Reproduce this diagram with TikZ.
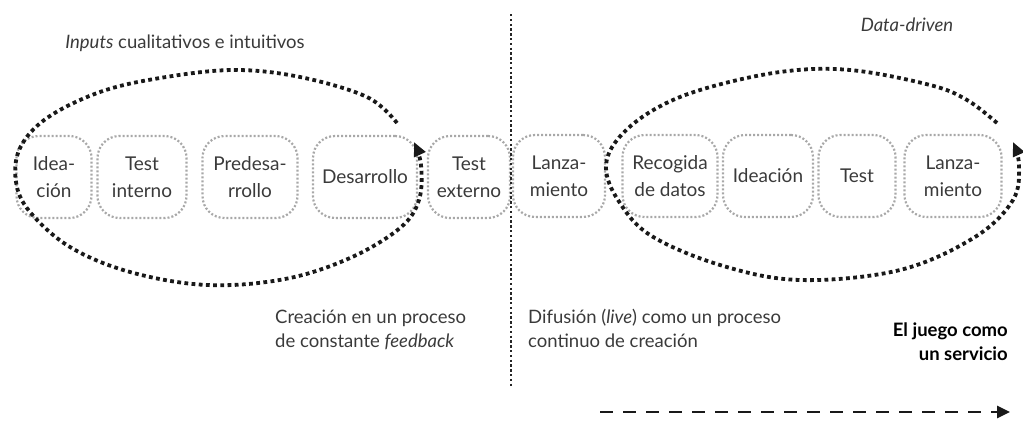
\documentclass[tikz,border=0pt]{standalone}
\usepackage{fontspec}
\setmainfont{Lato}
\usetikzlibrary{arrows.meta}
\definecolor{txt}{HTML}{3A3A3A}
\definecolor{boxline}{HTML}{A8A8A8}
\tikzset{
  stage/.style={draw=boxline, line width=2.2pt, dash pattern=on 2pt off 2pt,
    rounded corners=22pt, minimum height=82pt, align=center, inner sep=1pt,
    text=txt, font=\fontsize{19}{27}\selectfont},
  loop/.style={line width=3.8pt, dash pattern=on 3.8pt off 3.4pt, black!90,
    -{Triangle[length=14pt,width=12pt]}},
  lbl/.style={text=txt, font=\fontsize{18.5}{23.5}\selectfont, inner sep=0pt},
}
\begin{document}
\begin{tikzpicture}[x=1pt,y=-1pt]
\useasboundingbox (0,0) rectangle (1023,421);
% stages
\node[stage, minimum width=75pt] (b1) at (54,177) {Idea-\\ción};
\node[stage, minimum width=89pt] (b2) at (142,177) {Test\\interno};
\node[stage, minimum width=95pt] (b3) at (250,177) {Predesa-\\rrollo};
\node[stage, minimum width=104pt] (b4) at (365,177) {Desarrollo};
\node[stage, minimum width=82pt] (b5) at (469,177) {Test\\externo};
\node[stage, minimum width=92pt] (b6) at (559,176) {Lanza-\\miento};
\node[stage, minimum width=95pt] (b7) at (670,176) {Recogida\\de datos};
\node[stage, minimum width=90pt] (b8) at (768,176) {Ideación};
\node[stage, minimum width=77pt] (b9) at (857,176) {Test};
\node[stage, minimum width=97pt] (b10) at (953,176) {Lanza-\\miento};
% divider
\coordinate (dtop) at (511,14);
\coordinate (dbot) at (511,386);
\draw[line width=1.6pt, dash pattern=on 2.4pt off 2.4pt, black!85] (dtop) -- (dbot);
% left loop
\draw[loop] plot[smooth, tension=0.6] coordinates {
  (397,123) (367,97) (300,77) (233,70) (160,78) (100,92) (47,118)
  (20,148) (16,182) (30,212) (70,247) (130,272) (207,285)
  (285,279) (350,258) (400,228) (419,200) (421,165) (414,142)};
% right loop
\draw[loop] plot[smooth, tension=0.6] coordinates {
  (997,123) (967,100) (930,85) (850,70) (780,72) (700,90) (650,112)
  (617,140) (606,168) (618,200) (650,235) (720,265) (800,280)
  (900,270) (975,237) (1013,200) (1019,165) (1013,142)};
% labels
\node[lbl, anchor=base] (t1) at (185,48) {\itshape Inputs\upshape{} cualitativos e intuitivos};
\node[lbl, anchor=base] (t2) at (907,31) {\itshape Data-driven};
\node[lbl, anchor=base west, align=left] (t3) at (275,347) {Creación en un proceso\\de constante \textit{feedback}};
\node[lbl, anchor=base west, align=left] (t4) at (528,347) {Difusión (\textit{live}) como un proceso\\continuo de creación};
\node[lbl, anchor=base east, align=right, text=black, font=\fontsize{18.5}{23.5}\selectfont\bfseries] (t5) at (1008,360) {El juego como\\un servicio};
% time arrow
\coordinate (as) at (600,412);
\coordinate (ae) at (1010,412);
\draw[line width=2.8pt, dash pattern=on 13pt off 10pt, black!90, -{Triangle[length=13pt,width=12pt]}] (as) -- (ae);
\end{tikzpicture}
\end{document}
